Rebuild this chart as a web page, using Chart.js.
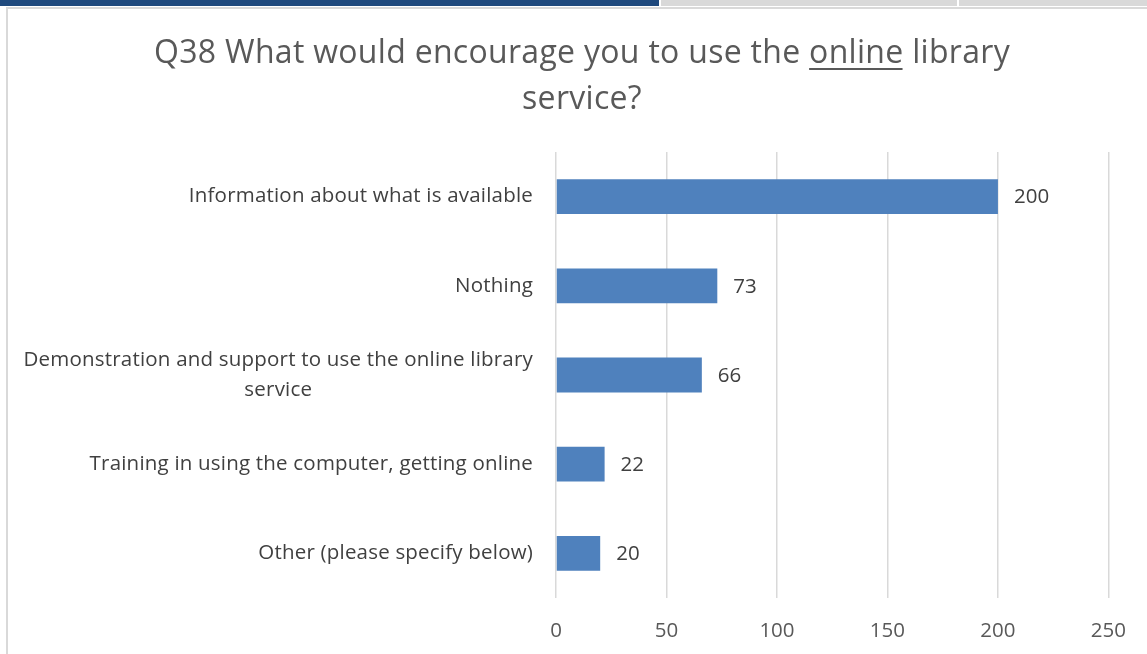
<!DOCTYPE html>
<html>
<head>
<meta charset="utf-8">
<script src="https://cdn.jsdelivr.net/npm/chart.js@4.4.0/dist/chart.umd.min.js"></script>
<style>
  html, body { margin: 0; padding: 0; background: #ffffff; }
  #wrap { position: relative; width: 1147px; height: 654px; overflow: hidden; }
  .tab { position: absolute; top: 0; height: 6px; }
  #frame { position: absolute; left: 6px; top: 7px; right: 0; bottom: 0;
           border-left: 2px solid #d9d9d9; border-top: 2px solid #d9d9d9; }
  canvas { position: absolute; left: 0; top: 0; }
</style>
</head>
<body>
<div id="wrap">
  <div class="tab" style="left:0;width:659px;background:#1f497d;"></div>
  <div class="tab" style="left:661px;width:296px;background:#d9d9d9;"></div>
  <div class="tab" style="left:959px;width:188px;background:#d9d9d9;"></div>
  <div id="frame"></div>
  <canvas id="chart" width="1147" height="654"></canvas>
</div>
<script>
// Survey responses, Q38
const categories = [
  ["Information about what is available"],
  ["Nothing"],
  ["Demonstration and support to use the online library", "service"],
  ["Training in using the computer, getting online"],
  ["Other (please specify below)"]
];
const responses = [200, 73, 66, 22, 20];
const xTicks = [0, 50, 100, 150, 200, 250];

const titleLine1 = ["Q38 What would encourage you to use the ", "online", " library"];
const titleLine2 = "service?";

const FONT = "'Open Sans', 'DejaVu Sans', sans-serif";
const LABEL_SIZE = 20.5;

// Title with the underlined word
const titlePlugin = {
  id: 'underlinedTitle',
  afterDraw(chart) {
    const ctx = chart.ctx;
    ctx.save();
    ctx.font = `32px ${FONT}`;
    ctx.letterSpacing = '0.3px';
    ctx.fillStyle = '#595959';
    ctx.strokeStyle = '#595959';
    ctx.textBaseline = 'middle';
    ctx.textAlign = 'left';
    const cx = 582;
    const widths = titleLine1.map(t => ctx.measureText(t).width);
    const total = widths.reduce((a, b) => a + b, 0);
    let x = cx - total / 2;
    const y1 = 54;
    titleLine1.forEach((t, i) => {
      ctx.fillText(t, x, y1);
      if (i === 1) {
        ctx.lineWidth = 2;
        ctx.beginPath();
        ctx.moveTo(x, y1 + 15);
        ctx.lineTo(x + widths[i] - 1, y1 + 15);
        ctx.stroke();
      }
      x += widths[i];
    });
    ctx.textAlign = 'center';
    ctx.fillText(titleLine2, cx, 100);
    ctx.restore();
  }
};

// Category labels: block right-aligned against the axis, lines centred within the block
const categoryLabels = {
  id: 'categoryLabels',
  afterDraw(chart) {
    const ctx = chart.ctx;
    const yScale = chart.scales.y;
    const right = chart.chartArea.left - 23;
    const lh = 30;
    ctx.save();
    ctx.font = `${LABEL_SIZE}px ${FONT}`;
    ctx.letterSpacing = '0.2px';
    ctx.fillStyle = '#404040';
    ctx.textBaseline = 'middle';
    ctx.textAlign = 'center';
    categories.forEach((lines, i) => {
      const yc = yScale.getPixelForValue(i);
      const w = Math.max(...lines.map(l => ctx.measureText(l).width));
      const cx = right - w / 2;
      const y0 = yc - (lines.length - 1) * lh / 2;
      lines.forEach((l, j) => ctx.fillText(l, cx, y0 + j * lh));
    });
    ctx.restore();
  }
};

// Value labels just past the end of each bar
const valueLabels = {
  id: 'valueLabels',
  afterDatasetsDraw(chart) {
    const ctx = chart.ctx;
    const meta = chart.getDatasetMeta(0);
    ctx.save();
    ctx.font = `${LABEL_SIZE}px ${FONT}`;
    ctx.fillStyle = '#404040';
    ctx.textBaseline = 'middle';
    ctx.textAlign = 'left';
    meta.data.forEach((bar, i) => {
      ctx.fillText(String(responses[i]), bar.x + 16, bar.y + 1);
    });
    ctx.restore();
  }
};

new Chart(document.getElementById('chart'), {
  type: 'bar',
  data: {
    labels: categories.map(c => c.join(' ')),
    datasets: [{
      data: responses,
      backgroundColor: '#4f81bd',
      borderWidth: 0,
      categoryPercentage: 1,
      barPercentage: 0.39
    }]
  },
  plugins: [titlePlugin, categoryLabels, valueLabels],
  options: {
    indexAxis: 'y',
    responsive: false,
    animation: false,
    layout: { padding: { left: 0, right: 38, top: 152, bottom: 0 } },
    plugins: {
      legend: { display: false },
      title: { display: false },
      tooltip: { enabled: false }
    },
    scales: {
      x: {
        min: 0,
        max: 250,
        afterBuildTicks(scale) { scale.ticks = xTicks.map(v => ({ value: v })); },
        afterFit(scale) { scale.height = 56; },
        grid: { color: '#d9d9d9', lineWidth: 1.5, drawTicks: false },
        border: { display: false },
        ticks: {
          padding: 21,
          color: '#595959',
          font: { family: FONT, size: LABEL_SIZE }
        }
      },
      y: {
        afterFit(scale) { scale.width = 556; },
        grid: { display: false },
        border: { display: false },
        ticks: { display: false }
      }
    }
  }
});
</script>
</body>
</html>
